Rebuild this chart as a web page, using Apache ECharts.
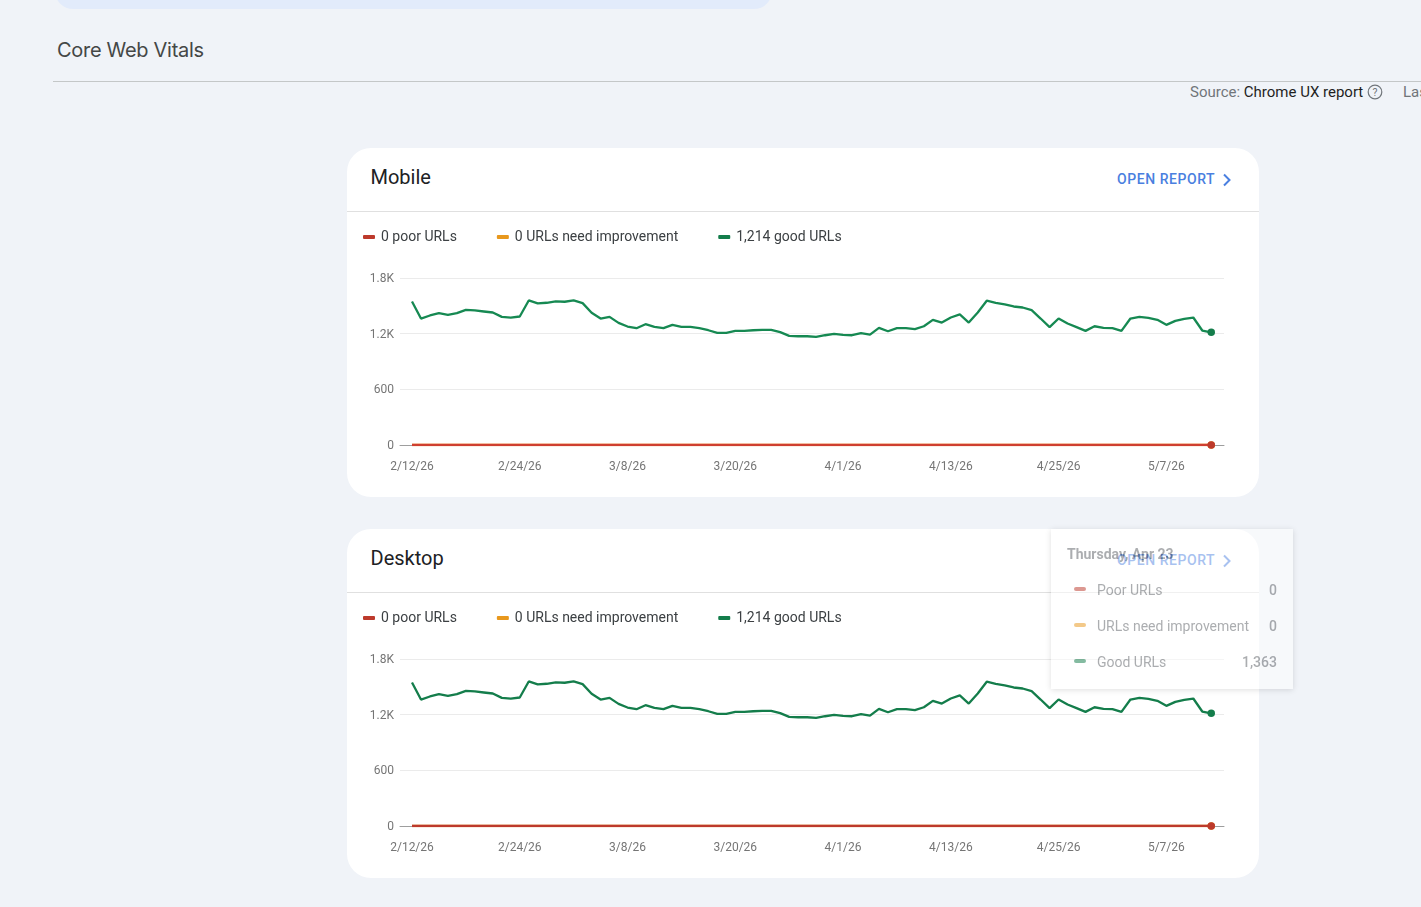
<!DOCTYPE html>
<html>
<head>
<meta charset="utf-8">
<title>Core Web Vitals</title>
<script src="https://cdn.jsdelivr.net/npm/echarts@6/dist/echarts.min.js"></script>
<style>
  html, body { margin: 0; padding: 0; width: 1421px; height: 907px; overflow: hidden; background: #f0f3f8; font-family: Roboto, sans-serif; }
  .pill { position: absolute; left: 55px; top: -30px; width: 717px; height: 39px; background: #e2ebfb; border-radius: 0 0 18px 18px; }
  .page-title { position: absolute; left: 57px; top: 37px; font: 400 20px/26px Inter, sans-serif; letter-spacing: -0.3px; color: #444746; }
  .rule { position: absolute; left: 53px; top: 81px; right: 0; height: 1px; background: #c4c7c8; }
  .source { position: absolute; left: 1190px; top: 83px; font-size: 15px; line-height: 18px; color: #70757a; white-space: nowrap; }
  .source b { font-weight: 400; color: #1f1f1f; }
  .source svg { position: absolute; left: 177px; top: 1px; }
  .last { position: absolute; left: 1403px; top: 83px; font-size: 15px; line-height: 18px; color: #70757a; white-space: nowrap; }
  .card { position: absolute; left: 347px; width: 912px; height: 349px; background: #fff; border-radius: 24px; }
  .card h2 { position: absolute; left: 23.5px; top: 16px; margin: 0; font: 400 20px/26px Roboto, sans-serif; color: #202124; }
  .card .open { position: absolute; left: 770px; top: 22px; font: 500 14px/18px Roboto, sans-serif; letter-spacing: 0.55px; color: #4a7fe0; white-space: nowrap; }
  .card .open svg { position: absolute; left: 104px; top: 3px; }
  .card .divider { position: absolute; left: 0; right: 0; top: 63px; height: 1px; background: #e0e0e0; }
  .plot { position: absolute; left: 0; top: 64px; width: 912px; height: 285px; }
  .tip-date { font: 700 14px/18px Roboto, sans-serif; color: #5f6368; position: absolute; left: 16px; top: 16px; white-space: nowrap; }
  .tip-row { position: absolute; left: 23px; right: 16px; height: 18px; font: 400 14px/18px Roboto, sans-serif; color: #5f6368; }
  .tip-row i { position: absolute; left: 0; top: 6px; width: 12px; height: 4px; border-radius: 2px; }
  .tip-row span { position: absolute; left: 23px; white-space: nowrap; }
  .tip-row em { position: absolute; right: 0; font-style: normal; font-weight: 500; }
</style>
</head>
<body>
<div class="pill"></div>
<div class="page-title">Core Web Vitals</div>
<div class="rule"></div>
<div class="source">Source: <b>Chrome UX report</b>
  <svg width="16" height="16" viewBox="0 0 16 16"><circle cx="8" cy="8" r="6.8" fill="none" stroke="#70757a" stroke-width="1.2"/><text x="8" y="11.6" text-anchor="middle" font-family="Roboto" font-size="10.5" fill="#70757a">?</text></svg>
</div>
<div class="last">Last updated</div>

<div class="card" style="top:148px">
  <h2>Mobile</h2>
  <div class="open">OPEN REPORT<svg width="12" height="14" viewBox="0 0 12 14"><path d="M3 1.5 L8.5 7 L3 12.5" fill="none" stroke="#4a7fe0" stroke-width="2"/></svg></div>
  <div class="divider"></div>
  <div class="plot" id="mobile"></div>
</div>
<div class="card" style="top:529px">
  <h2>Desktop</h2>
  <div class="open">OPEN REPORT<svg width="12" height="14" viewBox="0 0 12 14"><path d="M3 1.5 L8.5 7 L3 12.5" fill="none" stroke="#4a7fe0" stroke-width="2"/></svg></div>
  <div class="divider"></div>
  <div class="plot" id="desktop"></div>
</div>

<script>
// Daily URL counts, one entry per day from the first date onward.
const startDate = [2026, 1, 12];
const goodUrls = [
  1547, 1363, 1396, 1421, 1403, 1421, 1457, 1450, 1439, 1428,
  1381, 1374, 1385, 1558, 1526, 1533, 1547, 1544, 1558, 1529,
  1425, 1363, 1381, 1316, 1277, 1259, 1302, 1273, 1259, 1295,
  1273, 1273, 1259, 1237, 1208, 1208, 1230, 1230, 1237, 1241,
  1241, 1216, 1176, 1172, 1172, 1165, 1183, 1198, 1187, 1183,
  1205, 1190, 1262, 1226, 1259, 1259, 1248, 1280, 1349, 1320,
  1374, 1407, 1320, 1428, 1555, 1533, 1515, 1493, 1482, 1454,
  1363, 1270, 1363, 1309, 1270, 1230, 1280, 1262, 1259, 1230,
  1363, 1381, 1371, 1349, 1295, 1338, 1360, 1374, 1234, 1214
];
const poorUrls = [
  0,0,0,0,0,0,0,0,0,0, 0,0,0,0,0,0,0,0,0,0, 0,0,0,0,0,0,0,0,0,0,
  0,0,0,0,0,0,0,0,0,0, 0,0,0,0,0,0,0,0,0,0, 0,0,0,0,0,0,0,0,0,0,
  0,0,0,0,0,0,0,0,0,0, 0,0,0,0,0,0,0,0,0,0, 0,0,0,0,0,0,0,0,0,0
];
const needsImprovementUrls = [
  0,0,0,0,0,0,0,0,0,0, 0,0,0,0,0,0,0,0,0,0, 0,0,0,0,0,0,0,0,0,0,
  0,0,0,0,0,0,0,0,0,0, 0,0,0,0,0,0,0,0,0,0, 0,0,0,0,0,0,0,0,0,0,
  0,0,0,0,0,0,0,0,0,0, 0,0,0,0,0,0,0,0,0,0, 0,0,0,0,0,0,0,0,0,0
];
const tickOffsets = [0, 12, 24, 36, 48, 60, 72, 84];
const tickLabels = ['2/12/26', '2/24/26', '3/8/26', '3/20/26', '4/1/26', '4/13/26', '4/25/26', '5/7/26'];
const yTicks = ['0', '600', '1.2K', '1.8K'];
const seriesNames = ['Poor URLs', 'URLs need improvement', 'Good URLs'];
const legendLabels = ['0 poor URLs', '0 URLs need improvement', '1,214 good URLs'];
const seriesColors = ['#bd3a2c', '#e8981d', '#147d4b'];
const hoveredDay = 70;

const WEEKDAYS = ['Sunday','Monday','Tuesday','Wednesday','Thursday','Friday','Saturday'];
const MONTHS = ['Jan','Feb','Mar','Apr','May','Jun','Jul','Aug','Sep','Oct','Nov','Dec'];

function tooltipHtml(params) {
  const idx = params[0].dataIndex;
  const d = new Date(Date.UTC(startDate[0], startDate[1], startDate[2] + idx));
  const values = [poorUrls, needsImprovementUrls, goodUrls];
  const rows = seriesNames.map((name, s) =>
    `<div class="tip-row" style="top:${52 + s * 36}px"><i style="background:${seriesColors[s]}"></i>` +
    `<span>${name}</span><em>${values[s][idx].toLocaleString('en-US')}</em></div>`).join('');
  return `<div class="tip-date">${WEEKDAYS[d.getUTCDay()]}, ${MONTHS[d.getUTCMonth()]} ${d.getUTCDate()}</div>${rows}`;
}

function buildOption() {
  const series = [needsImprovementUrls, goodUrls, poorUrls].map((values, k) => {
    const s = [1, 2, 0][k];
    const last = values.length - 1;
    return {
      name: seriesNames[s],
      type: 'line',
      data: values.map((v, i) => [i, v]),
      showSymbol: true,
      showAllSymbol: true,
      symbol: (v, p) => (p.dataIndex === last ? 'circle' : 'none'),
      symbolSize: 7.5,
      lineStyle: { width: 2.3, color: seriesColors[s] },
      itemStyle: { color: seriesColors[s] },
      z: 2 + k
    };
  });
  return {
    animation: false,
    grid: { left: 53, top: 66, width: 824, height: 167 },
    legend: {
      left: 16, top: 18, padding: 0,
      data: seriesNames.map(name => ({ name, icon: 'roundRect' })),
      itemWidth: 12, itemHeight: 4, itemGap: 40,
      selectedMode: false,
      formatter: name => legendLabels[seriesNames.indexOf(name)],
      textStyle: { fontFamily: 'Roboto', fontSize: 14, color: '#3c4043', padding: [0, 0, 0, 1] }
    },
    xAxis: {
      type: 'value',
      min: -1.336,
      max: 90.42,
      splitLine: { show: false },
      axisTick: { show: false },
      axisLine: { lineStyle: { color: '#9e9e9e', width: 1 } },
      axisLabel: {
        customValues: tickOffsets,
        margin: 16,
        fontFamily: 'Roboto', fontSize: 12, color: '#757575',
        formatter: v => tickLabels[tickOffsets.indexOf(v)]
      }
    },
    yAxis: {
      type: 'value',
      min: 0, max: 1800, interval: 600,
      axisLine: { show: false },
      axisTick: { show: false },
      splitLine: { lineStyle: { color: '#ebebeb', width: 1 } },
      axisLabel: {
        margin: 6,
        verticalAlign: 'top',
        lineHeight: 2,
        fontFamily: 'Roboto', fontSize: 12, color: '#757575',
        formatter: v => yTicks[v / 600]
      }
    },
    tooltip: { show: false },
    series
  };
}

const mobile = echarts.init(document.getElementById('mobile'));
const desktop = echarts.init(document.getElementById('desktop'));
mobile.setOption(buildOption());
desktop.setOption(buildOption());

// The mobile chart keeps its tooltip open on the pinned day; it sits across both cards.
mobile.setOption({
  tooltip: {
    show: true,
    trigger: 'axis',
    alwaysShowContent: true,
    transitionDuration: 0,
    showDelay: 0,
    axisPointer: { type: 'none' },
    position: [704, 317],
    padding: 0,
    borderWidth: 0,
    backgroundColor: '#fff',
    formatter: tooltipHtml,
    extraCssText: 'width:242px;height:160px;border-radius:0;box-shadow:0 1px 6px rgba(0,0,0,.25);opacity:.52;'
  }
});
mobile.dispatchAction({ type: 'showTip', seriesIndex: 1, dataIndex: hoveredDay });
</script>
</body>
</html>
